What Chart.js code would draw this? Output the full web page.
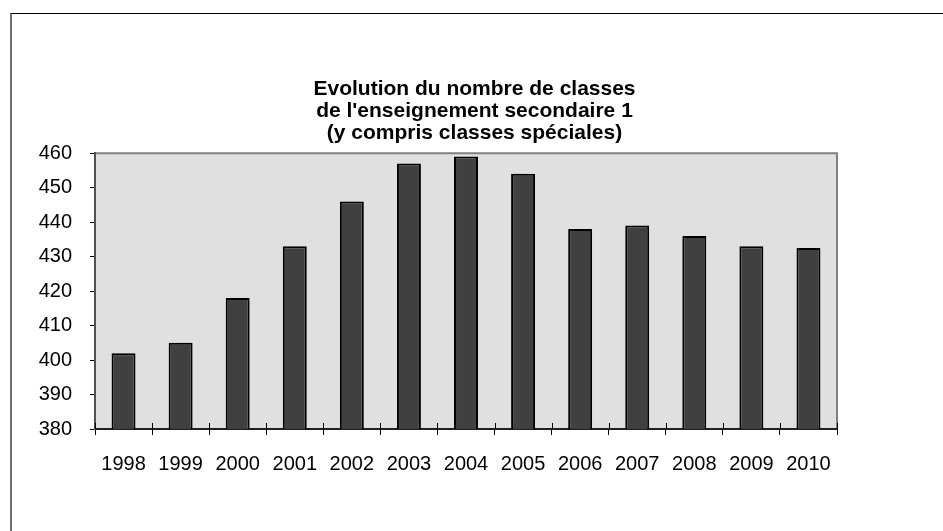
<!DOCTYPE html>
<html>
<head>
<meta charset="utf-8">
<script src="https://cdn.jsdelivr.net/npm/chart.js@4.4.1/dist/chart.umd.min.js"></script>
<style>
  html, body { margin: 0; padding: 0; background: #fff; }
  #wrap { position: relative; width: 943px; height: 531px; overflow: hidden; }
  #frame {
    position: absolute; left: 10px; top: 13px; width: 1000px; height: 600px;
    border-top: 1px solid #000; border-left: 2px solid #707070;
  }
  #chart { position: absolute; left: 0; top: 0; }
</style>
</head>
<body>
<div id="wrap">
  <div id="frame"></div>
  <canvas id="chart" width="943" height="531"></canvas>
</div>
<script>
// Nombre de classes par année
const annees = ['1998', '1999', '2000', '2001', '2002', '2003', '2004', '2005', '2006', '2007', '2008', '2009', '2010'];
const classes = [402, 405, 418, 433, 446, 457, 459, 454, 438, 439, 436, 433, 432.5];
const titre = ['Evolution du nombre de classes', "de l'enseignement secondaire 1", '(y compris classes spéciales)'];
const yMin = 380, yMax = 460, yPas = 10;

const police = "'Liberation Sans', Arial, sans-serif";

// fond gris de la zone de tracé + cadre haut/droite
const fondZone = {
    id: 'fondZone',
    beforeDraw(chart) {
        const { ctx, chartArea: a } = chart;
        ctx.save();
        ctx.fillStyle = '#e0e0e0';
        ctx.fillRect(a.left, a.top, a.right - a.left, a.bottom - a.top);
        ctx.strokeStyle = '#808080';
        ctx.lineWidth = 2;
        ctx.beginPath();
        ctx.moveTo(a.left, a.top);
        ctx.lineTo(a.right, a.top);
        ctx.lineTo(a.right, a.bottom);
        ctx.stroke();
        ctx.restore();
    },
    // graduations de l'axe x qui traversent l'axe (partie au-dessus)
    afterDatasetsDraw(chart) {
        const { ctx, chartArea: a, scales } = chart;
        const x = scales.x;
        const demi = (x.getPixelForValue(1) - x.getPixelForValue(0)) / 2;
        ctx.save();
        ctx.strokeStyle = '#000';
        ctx.lineWidth = 1;
        ctx.beginPath();
        for (let i = 0; i <= annees.length; i++) {
            const px = Math.round(x.getPixelForValue(i) - demi) + 0.5;
            ctx.moveTo(px, a.bottom);
            ctx.lineTo(px, a.bottom - 6);
        }
        ctx.stroke();
        ctx.restore();
    }
};

new Chart(document.getElementById('chart'), {
    type: 'bar',
    data: {
        labels: annees,
        datasets: [{
            data: classes,
            backgroundColor: '#404040',
            borderColor: '#000',
            borderWidth: 2,
            borderSkipped: 'bottom',
            barPercentage: 0.42,
            categoryPercentage: 1
        }]
    },
    options: {
        responsive: false,
        animation: false,
        layout: { padding: { left: 6, right: 0, top: 0, bottom: 0 } },
        plugins: {
            legend: { display: false },
            tooltip: { enabled: false },
            title: {
                display: true,
                text: titre,
                color: '#000',
                font: { family: police, size: 21, weight: 'bold', lineHeight: 1.05 },
                padding: { top: 78, bottom: 9 }
            }
        },
        scales: {
            x: {
                grid: { display: true, drawOnChartArea: false, tickLength: 6, color: '#000', offset: true },
                border: { color: '#202020', width: 2 },
                ticks: { color: '#000', font: { family: police, size: 20 }, padding: 17, maxRotation: 0 },
                afterFit(s) { s.height = 102; }
            },
            y: {
                min: yMin, max: yMax,
                grid: { display: true, drawOnChartArea: false, tickLength: 5, color: '#000' },
                border: { color: '#505050', width: 2 },
                ticks: { stepSize: yPas, color: '#000', font: { family: police, size: 20 }, padding: 18 },
                afterFit(s) { s.width = 89; }
            },
            // axe vide à droite, réserve la marge
            yR: {
                position: 'right',
                display: true,
                grid: { display: false },
                border: { display: false },
                ticks: { display: false },
                afterFit(s) { s.width = 106; }
            }
        }
    },
    plugins: [fondZone]
});
</script>
</body>
</html>
